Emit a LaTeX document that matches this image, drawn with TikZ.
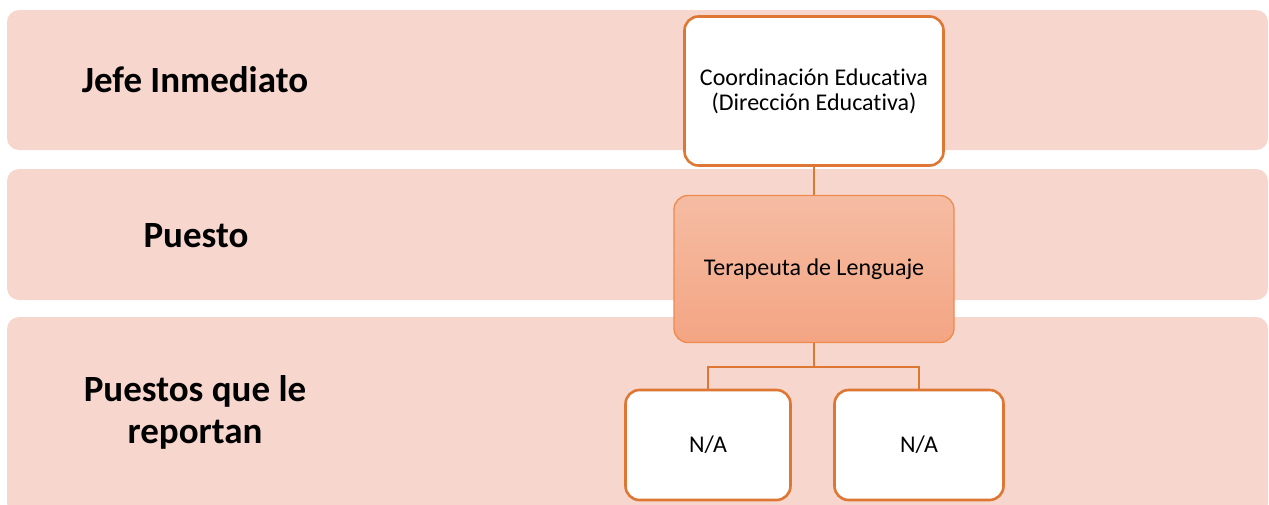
\documentclass[tikz,border=0pt]{standalone}
\usepackage{fontspec}
\setmainfont{Carlito}[RawFeature=-liga]
\usetikzlibrary{positioning}
\definecolor{bandafondo}{HTML}{F7D7CD}
\definecolor{naranja}{HTML}{DE7634}
\definecolor{naranjaclaro}{HTML}{EE8A4C}
\definecolor{salmonarriba}{HTML}{F5BCA3}
\definecolor{salmonabajo}{HTML}{F4A583}
\tikzset{
  banda/.style={fill=bandafondo, rounded corners=12pt},
  titulo/.style={align=center, font=\fontsize{37}{42}\selectfont\bfseries},
  caja/.style={draw=naranja, line width=2.6pt, fill=white, rounded corners=14pt,
    align=center, inner sep=0pt, font=\fontsize{24}{25}\selectfont},
  cajapuesto/.style={caja, draw=naranjaclaro, line width=1.3pt,
    top color=salmonarriba, bottom color=salmonabajo},
  linea/.style={draw=naranja, line width=2.6pt}
}
\begin{document}
\begin{tikzpicture}[x=1pt,y=-1pt]
\useasboundingbox (0,0) rectangle (1269,504);
% bandas de fondo
\fill[banda] (7,10) rectangle (1268,150);
\fill[banda] (7,169) rectangle (1268,300);
\fill[banda] (7,317) rectangle (1268,515);
\node[titulo] (tjefe) at (195,80) {Jefe Inmediato};
\node[titulo] (tpuesto) at (196,236) {Puesto};
\node[titulo] (treporta) at (195,412) {Puestos que le\\reportan};
% organigrama
\node[caja, minimum width=259pt, minimum height=149pt] (jefe) at (814,91)
  {Coordinación Educativa\\(Dirección Educativa)};
\node[cajapuesto, minimum width=280pt, minimum height=147pt] (puesto) at (814,269)
  {Terapeuta de Lenguaje};
\node[caja, minimum width=165pt, minimum height=110pt] (na1) at (708,445) {N/A};
\node[caja, minimum width=169pt, minimum height=110pt] (na2) at (919,445) {N/A};
\coordinate (rama) at (814,367);
\draw[linea] (jefe) -- (puesto);
\draw[linea] (puesto) -- (rama) -| (na1);
\draw[linea] (rama) -| (na2);
\end{tikzpicture}
\end{document}
